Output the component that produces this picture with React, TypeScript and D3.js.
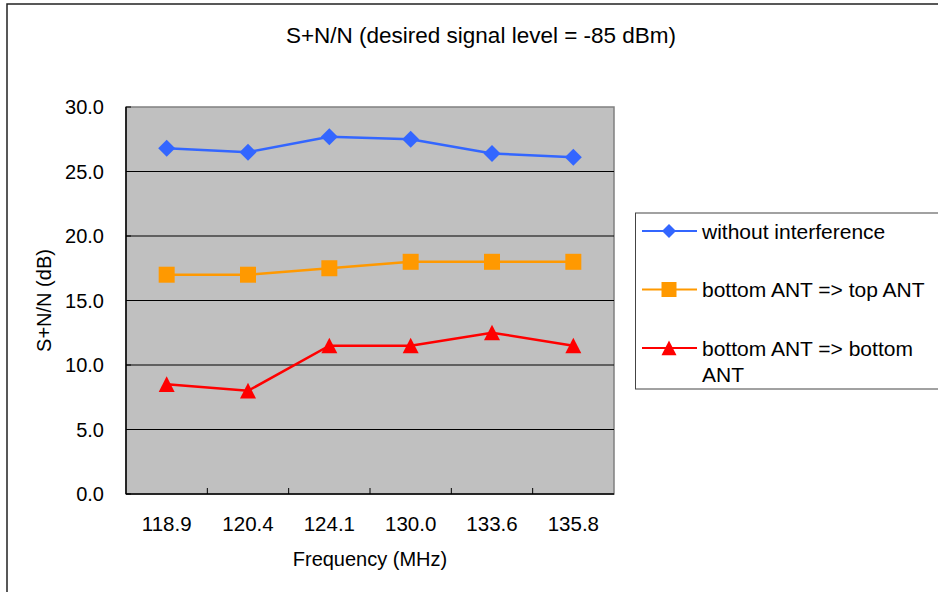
import * as d3 from 'd3'

const W = 938
const H = 592

const FREQS = ['118.9', '120.4', '124.1', '130.0', '133.6', '135.8']
const NO_INTERF = [26.8, 26.5, 27.7, 27.5, 26.4, 26.1]
const BOTTOM_TOP = [17.0, 17.0, 17.5, 18.0, 18.0, 18.0]
const BOTTOM_BOTTOM = [8.5, 8.0, 11.5, 11.5, 12.5, 11.5]
const Y_TICKS = [0, 5, 10, 15, 20, 25, 30]

const SERIES = [
  { name: ['without interference'], values: NO_INTERF, color: '#3366ff', shape: 'diamond' },
  { name: ['bottom ANT => top ANT'], values: BOTTOM_TOP, color: '#ff9900', shape: 'square' },
  { name: ['bottom ANT => bottom', 'ANT'], values: BOTTOM_BOTTOM, color: '#ff0000', shape: 'triangle' },
]

const PLOT = { left: 126, top: 107, right: 614, bottom: 494 }
const FONT = 'Liberation Sans, Arial, sans-serif'

const x = d3.scaleBand<string>().domain(FREQS).range([PLOT.left, PLOT.right])
const y = d3.scaleLinear().domain([0, 30]).range([PLOT.bottom, PLOT.top])
const cx = (f: string) => (x(f) ?? 0) + x.bandwidth() / 2

// excel-style markers, centred on 0,0
const outline = d3.line().curve(d3.curveLinearClosed)
const marker = (shape: string, r: number) => {
  if (shape === 'diamond') return outline([[0, -r], [r, 0], [0, r], [-r, 0]])
  if (shape === 'square') return outline([[-r, -r], [r, -r], [r, r], [-r, r]])
  return outline([[0, -r], [r, r * 0.95], [-r, r * 0.95]])
}

export default function App() {
  const line = d3.line<number>()
    .x((_, i) => cx(FREQS[i]))
    .y(d => y(d))

  return (
    <svg width={W} height={H} style={{ position: 'fixed', left: 0, top: 0, background: '#fff' }} fontFamily={FONT}>
      <rect x={7} y={4} width={W} height={H} fill="#fff" stroke="#222" strokeWidth={1.5} />
      <text x={481} y={43} textAnchor="middle" fontSize={22.5}>S+N/N (desired signal level = -85 dBm)</text>

      <rect x={PLOT.left} y={PLOT.top} width={PLOT.right - PLOT.left} height={PLOT.bottom - PLOT.top}
        fill="#c0c0c0" stroke="#808080" strokeWidth={1.5} />
      {Y_TICKS.filter(t => t > 0 && t < 30).map(t => (
        <line key={t} x1={PLOT.left} x2={PLOT.right} y1={y(t)} y2={y(t)} stroke="#000" strokeWidth={1} />
      ))}
      {Y_TICKS.map(t => (
        <g key={t}>
          <line x1={PLOT.left} x2={PLOT.left + 5} y1={y(t)} y2={y(t)} stroke="#000" />
          <text x={104} y={y(t)} dy="0.36em" textAnchor="end" fontSize={20}>{t.toFixed(1)}</text>
        </g>
      ))}
      <line x1={PLOT.left} x2={PLOT.left} y1={PLOT.top} y2={PLOT.bottom} stroke="#000" strokeWidth={1.5} />
      <line x1={PLOT.left} x2={PLOT.right} y1={PLOT.bottom} y2={PLOT.bottom} stroke="#000" strokeWidth={1.5} />
      {FREQS.map((f, i) => (
        <g key={f}>
          {i > 0 && <line x1={x(f)} x2={x(f)} y1={PLOT.bottom} y2={PLOT.bottom - 6} stroke="#000" />}
          <text x={cx(f)} y={531} textAnchor="middle" fontSize={20.5}>{f}</text>
        </g>
      ))}
      <text x={370} y={566} textAnchor="middle" fontSize={20}>Frequency (MHz)</text>
      <text transform={`translate(51,${(PLOT.top + PLOT.bottom) / 2}) rotate(-90)`} textAnchor="middle" fontSize={20}>S+N/N (dB)</text>

      {SERIES.map(s => (
        <g key={s.name[0]}>
          <path d={line(s.values) ?? ''} fill="none" stroke={s.color} strokeWidth={2.5} />
          {s.values.map((v, i) => (
            <path key={i} d={marker(s.shape, s.shape === 'diamond' ? 8.5 : 8) ?? ''} fill={s.color}
              transform={`translate(${cx(FREQS[i])},${y(v)})`} />
          ))}
        </g>
      ))}

      <rect x={635.5} y={213} width={W} height={176} fill="#fff" stroke="#444" strokeWidth={1} />
      {SERIES.map((s, i) => {
        const ly = 231 + i * 58.5
        return (
          <g key={s.name[0]}>
            <line x1={642} x2={697} y1={ly} y2={ly} stroke={s.color} strokeWidth={2} />
            <path d={marker(s.shape, s.shape === 'diamond' ? 7 : 7.5) ?? ''} fill={s.color} transform={`translate(669,${ly})`} />
            {s.name.map((n, j) => (
              <text key={j} x={702} y={ly + j * 26} dy="0.36em" fontSize={21}>{n}</text>
            ))}
          </g>
        )
      })}
    </svg>
  )
}
